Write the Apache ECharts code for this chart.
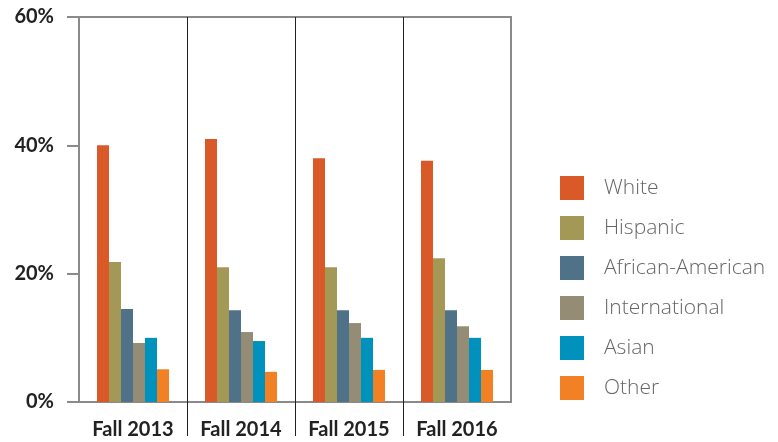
<!DOCTYPE html>
<html>
<head>
<meta charset="utf-8">
<script src="https://cdn.jsdelivr.net/npm/echarts@6/dist/echarts.min.js"></script>
<style>
html,body{margin:0;padding:0;background:#fff;}
#chart{width:778px;height:442px;}
</style>
</head>
<body>
<div id="chart"></div>
<script>
const categories = ['Fall 2013', 'Fall 2014', 'Fall 2015', 'Fall 2016'];
const seriesNames = ['White', 'Hispanic', 'African-American', 'International', 'Asian', 'Other'];
const white = [40.0, 41.0, 38.0, 37.6];
const hispanic = [21.8, 21.0, 21.0, 22.4];
const africanAmerican = [14.5, 14.3, 14.3, 14.3];
const international = [9.2, 10.9, 12.3, 11.8];
const asian = [10.0, 9.5, 10.0, 10.0];
const other = [5.1, 4.7, 5.0, 5.0];
const yTicks = [0, 20, 40, 60];

const seriesData = [white, hispanic, africanAmerican, international, asian, other];
const colors = ['#D95A28', '#A39855', '#4F7289', '#958C76', '#0091BC', '#F28024'];

const chart = echarts.init(document.getElementById('chart'), null, {renderer: 'canvas'});
const option = {
  animation: false,
  color: colors,
  grid: {
    left: 79, right: 267, top: 17, bottom: 40,
    show: true, borderColor: '#8a8a8a', borderWidth: 2, backgroundColor: 'transparent'
  },
  legend: {
    orient: 'vertical',
    left: 560,
    top: 176,
    padding: 0,
    itemWidth: 24,
    itemHeight: 24,
    itemGap: 16,
    icon: 'rect',
    data: seriesNames,
    textStyle: {
      fontFamily: 'Open Sans',
      fontWeight: 300,
      fontSize: 21,
      color: '#666',
      padding: [0, 0, 0, 15]
    }
  },
  xAxis: {
    type: 'category',
    data: categories,
    axisLine: {show: false},
    axisTick: {show: false},
    splitLine: {show: false},
    axisLabel: {
      fontFamily: 'Lato',
      fontWeight: 'bold',
      fontSize: 20,
      color: '#222',
      margin: 18
    }
  },
  yAxis: {
    type: 'value',
    min: yTicks[0],
    max: yTicks[yTicks.length - 1],
    interval: 20,
    axisLine: {show: false},
    axisTick: {show: true, length: 12, lineStyle: {color: '#8a8a8a', width: 2}},
    splitLine: {show: false},
    axisLabel: {
      formatter: '{value}%',
      fontFamily: 'Lato',
      fontWeight: 'bold',
      fontSize: 20,
      color: '#222',
      margin: 25
    }
  },
  series: seriesNames.map((name, i) => ({
    name: name,
    type: 'bar',
    data: seriesData[i],
    barWidth: 12,
    barGap: '0%',
    itemStyle: {color: colors[i]}
  }))
};
chart.setOption(option);

// category separators, positioned through the library's scales
const centers = categories.map(c => chart.convertToPixel({xAxisIndex: 0}, c));
const yTop = chart.convertToPixel({yAxisIndex: 0}, yTicks[yTicks.length - 1]);
const yBottom = chart.convertToPixel({yAxisIndex: 0}, yTicks[0]);
const lines = [];
for (let i = 0; i < centers.length - 1; i++) {
  const x = Math.round((centers[i] + centers[i + 1]) / 2) + 0.5;
  lines.push({
    type: 'line',
    shape: {x1: x, y1: yTop, x2: x, y2: yBottom + 34},
    style: {stroke: '#222', lineWidth: 1},
    z: 10
  });
}
chart.setOption({graphic: lines});
</script>
</body>
</html>
